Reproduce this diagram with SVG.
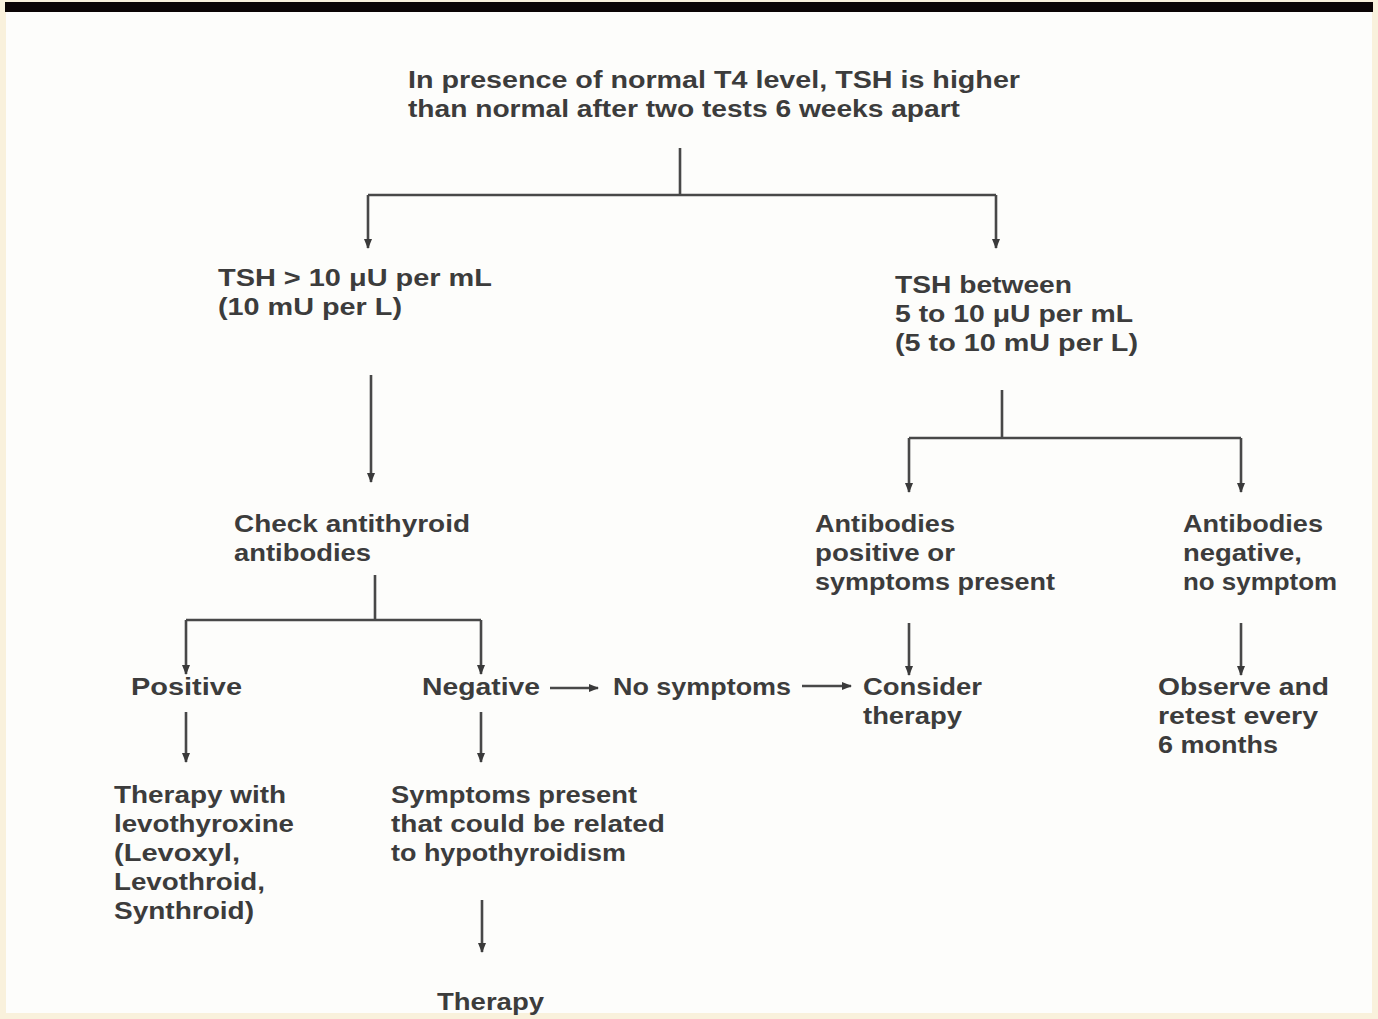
<svg xmlns="http://www.w3.org/2000/svg" width="1378" height="1019" viewBox="0 0 1378 1019">
<defs>
<marker id="ah" viewBox="0 0 10 10" refX="9" refY="5" markerWidth="10" markerHeight="10" markerUnits="userSpaceOnUse" orient="auto">
<path d="M0,1 L10,5 L0,9 z" fill="#3a3a3a"/>
</marker>
<style>
text{font-family:"Liberation Sans",Arial,sans-serif;font-size:23px;font-weight:bold;fill:#3c3c3c}
.c line,.c path{stroke:#484848;stroke-width:2.6;fill:none}
</style>
</defs>
<rect x="0" y="0" width="1378" height="1019" fill="#f9f1dc"/>
<rect x="6" y="12" width="1366" height="1001" fill="#fdfdfb"/>
<rect x="5" y="2" width="1368" height="10" fill="#0b0505"/>
<g class="c" id="connectors">
<path d="M680,148 V195"/>
<path d="M368,195 H996"/>
<line x1="368" y1="195" x2="368" y2="248" marker-end="url(#ah)"/>
<line x1="996" y1="195" x2="996" y2="248" marker-end="url(#ah)"/>
<line x1="371" y1="375" x2="371" y2="482" marker-end="url(#ah)"/>
<path d="M375,575 V620 M186,620 H481"/>
<line x1="186" y1="620" x2="186" y2="674" marker-end="url(#ah)"/>
<line x1="481" y1="620" x2="481" y2="674" marker-end="url(#ah)"/>
<line x1="550" y1="688" x2="598" y2="688" marker-end="url(#ah)"/>
<line x1="802" y1="686" x2="851" y2="686" marker-end="url(#ah)"/>
<path d="M1002,390 V438 M909,438 H1241"/>
<line x1="909" y1="438" x2="909" y2="492" marker-end="url(#ah)"/>
<line x1="1241" y1="438" x2="1241" y2="492" marker-end="url(#ah)"/>
<line x1="909" y1="623" x2="909" y2="675" marker-end="url(#ah)"/>
<line x1="1241" y1="623" x2="1241" y2="675" marker-end="url(#ah)"/>
<line x1="186" y1="712" x2="186" y2="762" marker-end="url(#ah)"/>
<line x1="481" y1="712" x2="481" y2="762" marker-end="url(#ah)"/>
<line x1="482" y1="900" x2="482" y2="952" marker-end="url(#ah)"/>
</g>
<g id="n-top">
<text x="408" y="88" textLength="612" lengthAdjust="spacingAndGlyphs">In presence of normal T4 level, TSH is higher</text>
<text x="408" y="117" textLength="552" lengthAdjust="spacingAndGlyphs">than normal after two tests 6 weeks apart</text>
</g>
<g id="n-tsh-high">
<text x="218" y="286" textLength="274" lengthAdjust="spacingAndGlyphs">TSH &gt; 10 μU per mL</text>
<text x="218" y="315" textLength="184" lengthAdjust="spacingAndGlyphs">(10 mU per L)</text>
</g>
<g id="n-tsh-mid">
<text x="895" y="293" textLength="177" lengthAdjust="spacingAndGlyphs">TSH between</text>
<text x="895" y="322" textLength="238" lengthAdjust="spacingAndGlyphs">5 to 10 μU per mL</text>
<text x="895" y="351" textLength="243" lengthAdjust="spacingAndGlyphs">(5 to 10 mU per L)</text>
</g>
<g id="n-check">
<text x="234" y="532" textLength="236" lengthAdjust="spacingAndGlyphs">Check antithyroid</text>
<text x="234" y="561" textLength="137" lengthAdjust="spacingAndGlyphs">antibodies</text>
</g>
<g id="n-ab-pos">
<text x="815" y="532" textLength="140" lengthAdjust="spacingAndGlyphs">Antibodies</text>
<text x="815" y="561" textLength="140" lengthAdjust="spacingAndGlyphs">positive or</text>
<text x="815" y="590" textLength="240" lengthAdjust="spacingAndGlyphs">symptoms present</text>
</g>
<g id="n-ab-neg">
<text x="1183" y="532" textLength="140" lengthAdjust="spacingAndGlyphs">Antibodies</text>
<text x="1183" y="561" textLength="119" lengthAdjust="spacingAndGlyphs">negative,</text>
<text x="1183" y="590" textLength="154" lengthAdjust="spacingAndGlyphs">no symptom</text>
</g>
<g id="n-positive"><text x="131" y="695" textLength="111" lengthAdjust="spacingAndGlyphs">Positive</text></g>
<g id="n-negative"><text x="422" y="695" textLength="118" lengthAdjust="spacingAndGlyphs">Negative</text></g>
<g id="n-nosym"><text x="613" y="695" textLength="178" lengthAdjust="spacingAndGlyphs">No symptoms</text></g>
<g id="n-consider">
<text x="863" y="695" textLength="119" lengthAdjust="spacingAndGlyphs">Consider</text>
<text x="863" y="724" textLength="99" lengthAdjust="spacingAndGlyphs">therapy</text>
</g>
<g id="n-observe">
<text x="1158" y="695" textLength="171" lengthAdjust="spacingAndGlyphs">Observe and</text>
<text x="1158" y="724" textLength="160" lengthAdjust="spacingAndGlyphs">retest every</text>
<text x="1158" y="753" textLength="120" lengthAdjust="spacingAndGlyphs">6 months</text>
</g>
<g id="n-therapy-levo">
<text x="114" y="803" textLength="172" lengthAdjust="spacingAndGlyphs">Therapy with</text>
<text x="114" y="832" textLength="180" lengthAdjust="spacingAndGlyphs">levothyroxine</text>
<text x="114" y="861" textLength="126" lengthAdjust="spacingAndGlyphs">(Levoxyl,</text>
<text x="114" y="890" textLength="151" lengthAdjust="spacingAndGlyphs">Levothroid,</text>
<text x="114" y="919" textLength="140" lengthAdjust="spacingAndGlyphs">Synthroid)</text>
</g>
<g id="n-sym-present">
<text x="391" y="803" textLength="246" lengthAdjust="spacingAndGlyphs">Symptoms present</text>
<text x="391" y="832" textLength="274" lengthAdjust="spacingAndGlyphs">that could be related</text>
<text x="391" y="861" textLength="235" lengthAdjust="spacingAndGlyphs">to hypothyroidism</text>
</g>
<g id="n-therapy"><text x="437" y="1010" textLength="107" lengthAdjust="spacingAndGlyphs">Therapy</text></g>
</svg>
